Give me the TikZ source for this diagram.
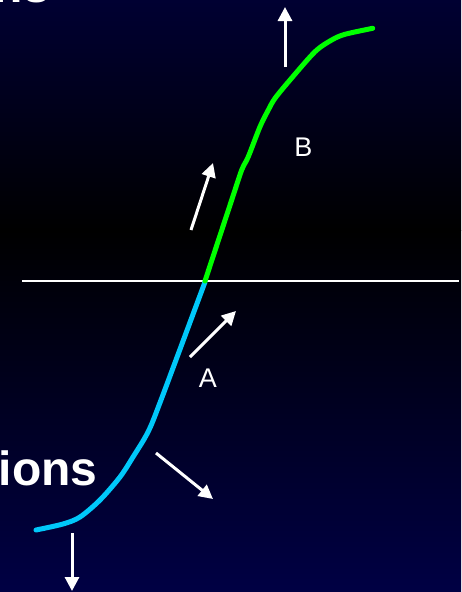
\documentclass[tikz,border=0pt]{standalone}
\usepackage{fontspec}
\setmainfont{Liberation Sans}
\usetikzlibrary{arrows.meta}
\definecolor{navytop}{RGB}{0,0,50}
\definecolor{navybot}{RGB}{0,0,68}
\definecolor{curvegreen}{RGB}{0,255,0}
\definecolor{curveblue}{RGB}{0,200,250}
\tikzset{
  whitearrow/.style={draw=white, line width=3pt, -{Triangle[length=14pt,width=14pt]}},
  curveline/.style={line width=5pt, line cap=round, line join=round},
  letterlabel/.style={text=white, font=\fontsize{27}{32}\selectfont, inner sep=0pt, anchor=base},
  bigword/.style={text=white, font=\fontsize{48}{58}\selectfont\bfseries, inner sep=0pt, anchor=base west},
}
\begin{document}
\begin{tikzpicture}[x=1pt,y=-1pt]
\useasboundingbox (0,0) rectangle (461,592);
\clip (0,0) rectangle (461,592);
% background
\shade[top color=navytop, bottom color=black] (0,0) rectangle (461,230);
\shade[top color=black, bottom color=navybot] (0,230) rectangle (461,592);
% partial texts
\node[bigword] (topword) at (-6.5,2) {ns};
\node[bigword] (sideword) at (-1.5,485) {ions};
% horizontal line
\coordinate (hl) at (22,281);
\coordinate (hr) at (459,281);
\draw[white, line width=1.4pt] (hl) -- (hr);
% curves
\draw[curveline, curveblue] plot[smooth, tension=0.5] coordinates {
 (36,530) (63,524) (80,517) (100,500) (120,477) (133,457) (148,432) (161,400) (205,282)};
\draw[curveline, curvegreen] plot[smooth, tension=0.5] coordinates {
 (205,281) (231.7,200) (241.7,170) (248.3,156.7) (260,126.7) (268.3,110) (275,98.3) (290,80) (315,51.7) (331.7,40) (345,34.3) (372.7,28.3)};
% arrows
\coordinate (a1t) at (285,67);   \coordinate (a1h) at (285,7);
\coordinate (a2t) at (191,230);  \coordinate (a2h) at (213,163);
\coordinate (a3t) at (190,357);  \coordinate (a3h) at (236,311);
\coordinate (a4t) at (156,453);  \coordinate (a4h) at (213,499);
\coordinate (a5t) at (72,533);   \coordinate (a5h) at (72,591);
\draw[whitearrow] (a1t) -- (a1h);
\draw[whitearrow] (a2t) -- (a2h);
\draw[whitearrow] (a3t) -- (a3h);
\draw[whitearrow] (a4t) -- (a4h);
\draw[whitearrow] (a5t) -- (a5h);
% labels
\node[letterlabel] (labB) at (303.5,156) {B};
\node[letterlabel] (labA) at (208,387) {A};
\end{tikzpicture}
\end{document}
